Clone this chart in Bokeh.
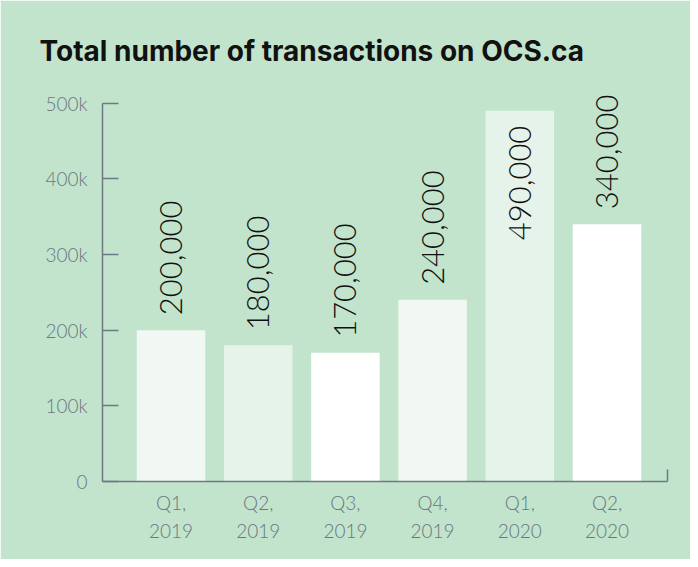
import math
from bokeh.plotting import figure
from bokeh.models import ColumnDataSource, Range1d, FixedTicker
from bokeh.core.properties import value
from bokeh.embed import file_html
from bokeh.resources import INLINE

# ---- data ----
categories = ["Q1,\n2019", "Q2,\n2019", "Q3,\n2019", "Q4,\n2019", "Q1,\n2020", "Q2,\n2020"]
transactions = [200000, 180000, 170000, 240000, 490000, 340000]
y_ticks = [0, 100000, 200000, 300000, 400000, 500000]
y_tick_labels = ["0", "100k", "200k", "300k", "400k", "500k"]
bar_colors = ["#f1f8f3", "#e5f3ea", "#ffffff", "#f1f8f3", "#e5f3ea", "#ffffff"]
title_text = "Total number of transactions on OCS.ca"

BG = "#c2e4cc"
AXIS = "#6f7885"
TICK_TXT = "#6c7683"
LIGHT_FONT = "Lato Light"

xs = list(range(len(categories)))
x_start, x_end = -0.786, 5.694
y_top = 540400

vmax = max(transactions)
inside = [v == vmax for v in transactions]
src = ColumnDataSource(dict(
    x=xs,
    top=transactions,
    color=bar_colors,
    label=[f"{v:,}" for v in transactions],
    align=["right" if i else "left" for i in inside],
    yoff=[15 if i else -15 for i in inside],
))

p = figure(width=690, height=559, output_backend="svg", toolbar_location=None,
           x_range=Range1d(x_start, x_end), y_range=Range1d(0, y_top),
           min_border_left=102, min_border_right=23, min_border_top=72, min_border_bottom=78)
p.background_fill_color = BG
p.border_fill_color = BG
p.outline_line_color = BG
p.outline_line_width = 2
p.xgrid.visible = False
p.ygrid.visible = False

p.title.text = title_text
p.title.text_font = "Inter"
p.title.text_font_size = "28px"
p.title.text_font_style = "bold"
p.title.text_color = "#111111"
p.title.offset = -63
p.title.standoff = 10

p.vbar(x="x", top="top", bottom=0, width=0.786, color="color", line_color=None, source=src)

p.text(x="x", y="top", text="label", angle=math.pi / 2, text_align="align",
       text_baseline="middle", y_offset="yoff", text_font=value(LIGHT_FONT),
       text_font_size="31px", text_color="#111111", source=src)

# y axis
ya = p.yaxis[0]
ya.ticker = FixedTicker(ticks=y_ticks, minor_ticks=[])
ya.major_label_overrides = {t: l for t, l in zip(y_ticks, y_tick_labels)}
ya.bounds = (0, y_ticks[-1])
ya.axis_line_color = AXIS
ya.axis_line_width = 1.5
ya.major_tick_line_color = AXIS
ya.major_tick_line_width = 1.5
ya.major_tick_in = 16
ya.major_tick_out = 0
ya.major_label_standoff = 15
ya.major_label_text_font = LIGHT_FONT
ya.major_label_text_font_size = "19px"
ya.major_label_text_color = TICK_TXT

# x axis
xa = p.xaxis[0]
xa.ticker = FixedTicker(ticks=xs, minor_ticks=[x_end])
xa.major_label_overrides = {i: c for i, c in zip(xs, categories)}
xa.bounds = (x_start, x_end)
xa.axis_line_color = AXIS
xa.axis_line_width = 1.5
xa.major_tick_line_color = None
xa.major_tick_in = 0
xa.major_tick_out = 0
xa.minor_tick_line_color = AXIS
xa.minor_tick_line_width = 1.5
xa.minor_tick_in = 12
xa.minor_tick_out = 0
xa.major_label_standoff = 9
xa.major_label_text_font = LIGHT_FONT
xa.major_label_text_font_size = "19px"
xa.major_label_text_color = TICK_TXT
xa.major_label_text_line_height = 1.25

open("out.html", "w").write(file_html(p, INLINE))
